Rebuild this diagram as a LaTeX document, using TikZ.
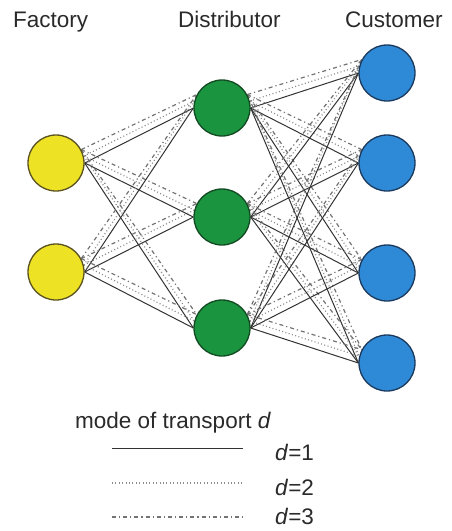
\documentclass[tikz,border=0pt]{standalone}
\usepackage{fontspec}
\setmainfont{Liberation Sans}
\usetikzlibrary{backgrounds}
\definecolor{yel}{HTML}{EDE324}
\definecolor{yelb}{HTML}{5A5220}
\definecolor{grn}{HTML}{1B9440}
\definecolor{grnb}{HTML}{124A22}
\definecolor{blu}{HTML}{2E8AD6}
\definecolor{blub}{HTML}{1C3A5E}
\definecolor{txt}{HTML}{2A2A2A}
\tikzset{
  x=1pt, y=-1pt,
  site/.style={circle, minimum size=56pt, inner sep=0pt, line width=1.3pt},
  fac/.style={site, fill=yel, draw=yelb},
  dis/.style={site, fill=grn, draw=grnb},
  cus/.style={site, fill=blu, draw=blub},
  lab/.style={anchor=base west, inner sep=0pt, text=txt, font=\fontsize{22.5}{27}\selectfont},
  mone/.style={draw=black!80, line width=1pt},
  mtwo/.style={draw=black!45, line width=1.2pt, dash pattern=on 1pt off 2.4pt},
  mthree/.style={draw=black!55, line width=1.2pt, dash pattern=on 4pt off 3pt on 1.2pt off 3pt},
}
\begin{document}
\begin{tikzpicture}
\useasboundingbox (0,0) rectangle (451,531);
% titles
\node[lab] (tf) at (13,27) {Factory};
\node[lab] (td) at (178,27) {Distributor};
\node[lab] (tc) at (345,27) {Customer};
% sites
\node[fac] (f1) at (56,163) {};
\node[fac] (f2) at (56,272) {};
\node[dis] (d1) at (222,108) {};
\node[dis] (d2) at (222,217) {};
\node[dis] (d3) at (222,328) {};
\node[cus] (c1) at (387,73) {};
\node[cus] (c2) at (387,163) {};
\node[cus] (c3) at (387,273) {};
\node[cus] (c4) at (387,363) {};
\begin{pgfonlayer}{background}
\foreach \a in {f1,f2}{
  \foreach \b in {d1,d2,d3}{
    \draw[mthree] (\a.28) -- (\b.152);
    \draw[mtwo] (\a.14) -- (\b.166);
    \draw[mone] (\a.east) -- (\b.west);
  }
}
\foreach \a in {d1,d2,d3}{
  \foreach \b in {c1,c2,c3,c4}{
    \draw[mthree] (\a.28) -- (\b.152);
    \draw[mtwo] (\a.14) -- (\b.166);
    \draw[mone] (\a.east) -- (\b.west);
  }
}
\end{pgfonlayer}
% legend
\node[lab] (lt) at (75,428) {mode of transport \textit{d}};
\coordinate (l1a) at (112,448);
\coordinate (l1b) at (243,448);
\coordinate (l2a) at (112,483);
\coordinate (l2b) at (243,483);
\coordinate (l3a) at (112,517);
\coordinate (l3b) at (243,517);
\draw[mone] (l1a) -- (l1b);
\draw[mtwo] (l2a) -- (l2b);
\draw[mthree] (l3a) -- (l3b);
\node[lab] (k1) at (275,460) {\textit{d}=1};
\node[lab] (k2) at (275,495) {\textit{d}=2};
\node[lab] (k3) at (275,524) {\textit{d}=3};
\end{tikzpicture}
\end{document}
